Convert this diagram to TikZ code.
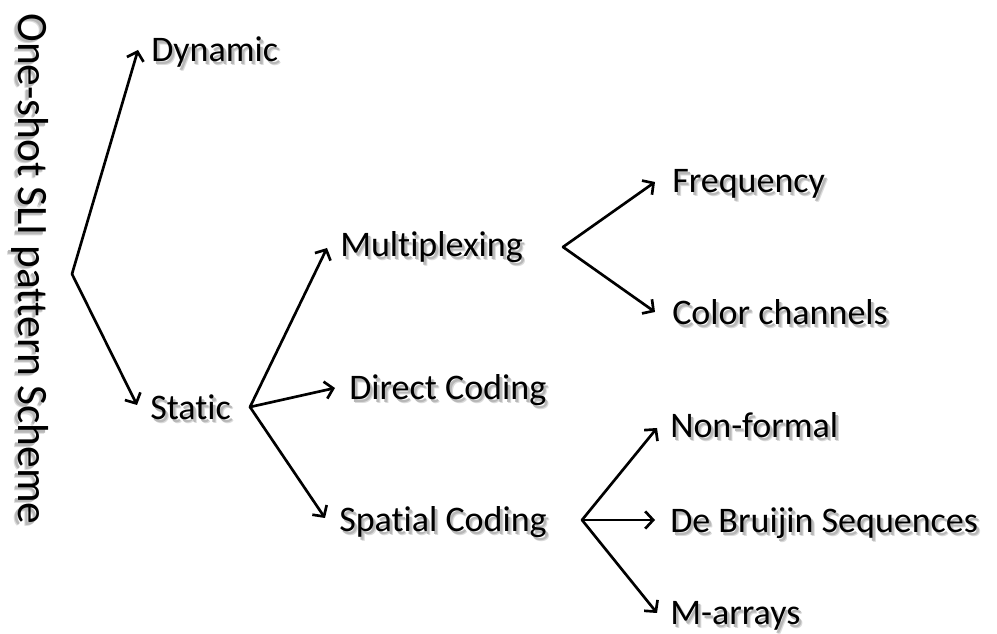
\documentclass[tikz,border=0pt]{standalone}
\usepackage{fontspec}
\setmainfont[Ligatures=NoCommon]{Carlito}
\usetikzlibrary{arrows.meta,calc}
\newcommand\shd[1]{\rlap{\kern2.6pt\raisebox{-2.6pt}{\color{black!14}#1}}\rlap{\kern1.8pt\raisebox{-1.8pt}{\color{black!28}#1}}#1}
\tikzset{
  lbl/.style={inner sep=0pt, anchor=base west, font=\fontsize{27}{32}\selectfont},
  arr/.style={line width=2pt, -{Straight Barb[length=6pt,width=13pt,line width=2pt]}, line cap=round, line join=miter},
}
\begin{document}
\begin{tikzpicture}[x=0.75pt,y=-0.75pt]
\useasboundingbox (0,0) rectangle (997,634);
\node[inner sep=0pt, rotate=-90, anchor=base, font=\fontsize{32.5}{38}\selectfont] (title) at (18,269) {\shd{One-shot SLI pattern Scheme}};
\coordinate (root) at (72,274);
\coordinate (bStat) at (250,407);
\coordinate (bMul) at (563,247);
\coordinate (bSpa) at (582,520);
\node[lbl] (dyn) at (151,62) {\shd{Dynamic}};
\node[lbl] (stat) at (150,420) {\shd{Static}};
\node[lbl] (mul) at (340,257) {\shd{Multiplexing}};
\node[lbl] (dir) at (349,400) {\shd{Direct Coding}};
\node[lbl] (spa) at (339,532) {\shd{Spatial Coding}};
\node[lbl] (freq) at (672,193) {\shd{Frequency}};
\node[lbl] (col) at (672,325) {\shd{Color channels}};
\node[lbl] (nonf) at (670,438) {\shd{Non-formal}};
\node[lbl] (debr) at (670,533) {\shd{De Bruijin Sequences}};
\node[lbl] (marr) at (670,625) {\shd{M-arrays}};
\draw[arr] (root) -- ($(dyn.base west)+(-13,-12)$);
\draw[arr] (root) -- ($(stat.base west)+(-13,-15)$);
\draw[arr] (bStat) -- ($(mul.base west)+(-13,-9)$);
\draw[arr] (bStat) -- ($(dir.base west)+(-14,-12)$);
\draw[arr] (bStat) -- ($(spa.base west)+(-14,-14)$);
\draw[arr] (bMul) -- ($(freq.base west)+(-17,-11)$);
\draw[arr] (bMul) -- ($(col.base west)+(-17,-13)$);
\draw[arr] (bSpa) -- ($(nonf.base west)+(-13,-10)$);
\draw[arr] (bSpa) -- ($(debr.base west)+(-15,-13)$);
\draw[arr] (bSpa) -- ($(marr.base west)+(-13,-12)$);
\end{tikzpicture}
\end{document}
